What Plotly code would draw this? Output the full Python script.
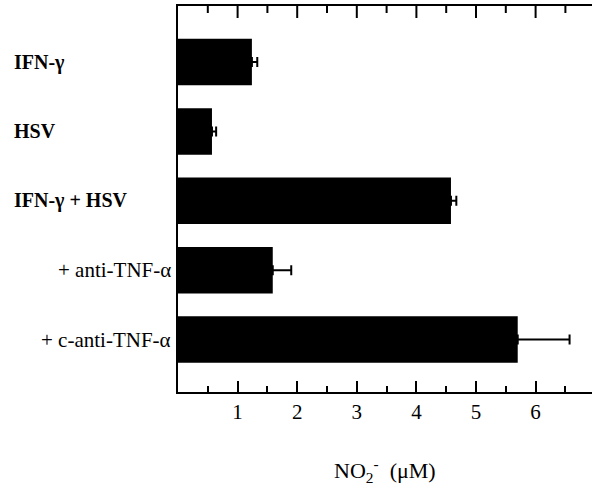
import plotly.graph_objects as go

categories = ["IFN-γ", "HSV", "IFN-γ + HSV", "+ anti-TNF-α", "+ c-anti-TNF-α"]
values = [1.24, 0.57, 4.58, 1.59, 5.70]
errors = [0.09, 0.07, 0.09, 0.31, 0.87]
bold_labels = [True, True, True, False, False]
tick_vals = [1, 2, 3, 4, 5, 6]
minor_tick_vals = [0.5, 1.5, 2.5, 3.5, 4.5, 5.5, 6.5]

W, H = 592, 490
L, R, T, B = 178, 0, 6, 98
pw = W - L - R
ph = H - T - B
FONT = "Liberation Serif"
XRANGE = [0, (W - L) / 59.6]

fig = go.Figure()
fig.add_trace(go.Bar(
    y=categories, x=values, orientation="h",
    marker=dict(color="black", line=dict(width=0)),
    width=0.67,
    error_x=dict(type="data", array=errors, symmetric=False, arrayminus=[0]*len(errors),
                 color="black", thickness=2, width=5),
))

annotations = []
for cat, b in zip(categories, bold_labels):
    if b:
        annotations.append(dict(x=(12 - L) / pw, xref="paper", y=cat, yref="y",
                                text=cat, showarrow=False, xanchor="left",
                                yanchor="middle",
                                font=dict(size=20, family=FONT, color="black", weight="bold")))
    else:
        annotations.append(dict(x=(173 - L) / pw, xref="paper", y=cat, yref="y",
                                text=cat, showarrow=False, xanchor="right",
                                yanchor="middle", font=dict(size=21, family=FONT, color="black")))
annotations.append(dict(x=0.5, xref="paper", y=-(470 - (H - B)) / ph, yref="paper",
                        text="NO<sub>2</sub><sup>-</sup>  (μM)", showarrow=False,
                        xanchor="center", yanchor="middle",
                        font=dict(size=22, family=FONT, color="black")))

# inside ticks along the top frame line, placed on the x scale
shapes = []
for v in tick_vals:
    shapes.append(dict(type="line", xref="x", yref="paper", x0=v, x1=v, y0=1, y1=1 - 12 / ph,
                       line=dict(color="black", width=2)))
for v in minor_tick_vals:
    shapes.append(dict(type="line", xref="x", yref="paper", x0=v, x1=v, y0=1, y1=1 - 7 / ph,
                       line=dict(color="black", width=2)))

fig.update_layout(
    width=W, height=H,
    margin=dict(l=L, r=R, t=T, b=B, pad=0),
    paper_bgcolor="white", plot_bgcolor="white",
    showlegend=False,
    font=dict(family=FONT, color="black", size=20),
    annotations=annotations,
    shapes=shapes,
    xaxis=dict(range=XRANGE, tickvals=tick_vals, ticks="inside", ticklen=11,
               tickwidth=2, tickcolor="black", showline=True, linecolor="black", linewidth=2,
               mirror=True, showgrid=False, zeroline=False,
               tickfont=dict(size=21, family=FONT),
               minor=dict(tickvals=minor_tick_vals, ticks="inside", ticklen=6, tickwidth=2,
                          tickcolor="black", showgrid=False)),
    yaxis=dict(type="category", range=[4.756, -0.807], showticklabels=False, ticks="",
               showline=True, linecolor="black", linewidth=2, showgrid=False, zeroline=False),
)

fig.write_html("out.html", config={"displayModeBar": False},
               post_script="document.body.style.margin='0';document.body.style.overflow='hidden';")
